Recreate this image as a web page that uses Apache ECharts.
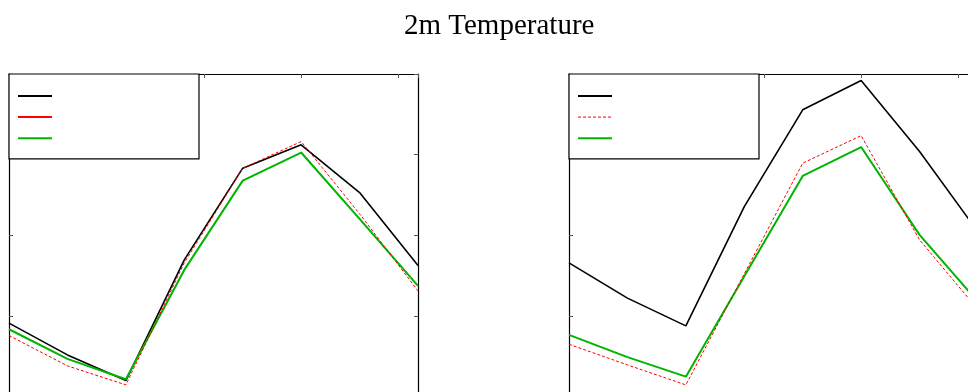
<!DOCTYPE html>
<html>
<head>
<meta charset="utf-8">
<script src="https://cdn.jsdelivr.net/npm/echarts@6/dist/echarts.min.js"></script>
<style>
  html, body { margin: 0; padding: 0; background: #fff; overflow: hidden; }
  #chart { width: 990px; height: 400px; }
</style>
</head>
<body>
<div id="chart"></div>
<script>
// forecast hours (x) and 2m temperature in K (y)
const hours = [0, 6, 12, 18, 24, 30, 36, 42]
const xTicks = { min: 0, max: 42, interval: 10 }
const yTicks = { min: 270, max: 290, interval: 5 }

// left panel
const leftRef  = [274.55, 272.58, 270.99, 278.47, 284.16, 285.61, 282.65, 278.13]
const leftRun1 = [273.78, 271.90, 270.72, 278.29, 284.15, 285.81, 281.33, 276.55]
const leftRun2 = [274.17, 272.33, 271.07, 277.85, 283.39, 285.13, 281.02, 276.86]

// right panel
const rightRef  = [278.29, 276.10, 274.38, 281.78, 287.78, 289.60, 285.19, 280.21]
const rightRun1 = [273.24, 271.96, 270.72, 277.61, 284.47, 286.18, 279.71, 275.39]
const rightRun2 = [273.82, 272.44, 271.23, 277.45, 283.68, 285.47, 280.02, 275.87]

const BLACK = '#000000'
const RED = '#ff0000'
const GREEN = '#00b400'

const toPairs = vals => hours.map((h, i) => [h, vals[i]])

const grids = [
  { left: 9, top: 74, width: 409, height: 322.5 },
  { left: 569, top: 74, width: 409, height: 322.5 }
]

function frameAxes(kind, gridIndex) {
  const base = {
    type: 'value',
    gridIndex,
    ...(kind === 'x' ? xTicks : yTicks),
    axisLabel: { show: false },
    splitLine: { show: false },
    axisLine: { show: true, onZero: false, lineStyle: { color: BLACK, width: 1.2 } },
    axisTick: { show: true, inside: true, length: 4, lineStyle: { color: '#555', width: 1 } }
  }
  const sides = kind === 'x' ? ['bottom', 'top'] : ['left', 'right']
  return sides.map(position => ({ ...base, position }))
}

const xAxis = [...frameAxes('x', 0), ...frameAxes('x', 1)]
const yAxis = [...frameAxes('y', 0), ...frameAxes('y', 1)]

function line(name, vals, panel, color, width, dashed) {
  return {
    name,
    type: 'line',
    xAxisIndex: panel * 2,
    yAxisIndex: panel * 2,
    data: toPairs(vals),
    symbol: 'none',
    showSymbol: false,
    silent: true,
    z: color === RED ? 3 : 2,
    lineStyle: { color, width, type: dashed ? [3, 2] : 'solid' },
    itemStyle: { color }
  }
}

const series = [
  line('A reference', leftRef, 0, BLACK, 1.6, false),
  line('A run 1', leftRun1, 0, RED, 1, true),
  line('A run 2', leftRun2, 0, GREEN, 2, false),
  line('B reference', rightRef, 1, BLACK, 1.6, false),
  line('B run 1', rightRun1, 1, RED, 1, true),
  line('B run 2', rightRun2, 1, GREEN, 2, false)
]

// legend icons: just the line, no marker
const noMarker = { opacity: 0 }

function legendBox(left, names, redSolid) {
  return {
    orient: 'vertical',
    left,
    top: 74,
    padding: [15, 146, 15, 8],
    itemWidth: 34,
    itemHeight: 14,
    itemGap: 8.5,
    selectedMode: false,
    borderColor: BLACK,
    borderWidth: 1.2,
    backgroundColor: '#fff',
    formatter: () => '',
    data: [
      { name: names[0], itemStyle: noMarker, lineStyle: { width: 2 } },
      { name: names[1], itemStyle: noMarker, lineStyle: redSolid ? { type: 'solid', width: 2 } : { type: [3, 2], width: 1 } },
      { name: names[2], itemStyle: noMarker, lineStyle: { width: 2 } }
    ]
  }
}

const chart = echarts.init(document.getElementById('chart'), null, { renderer: 'canvas' })
chart.setOption({
  animation: false,
  backgroundColor: '#fff',
  title: {
    text: '2m Temperature',
    left: 404,
    top: 12,
    padding: 0,
    textStyle: { fontFamily: 'Liberation Serif', fontSize: 29, fontWeight: 'normal', color: BLACK }
  },
  grid: grids,
  xAxis,
  yAxis,
  legend: [
    legendBox(9, ['A reference', 'A run 1', 'A run 2'], true),
    legendBox(569, ['B reference', 'B run 1', 'B run 2'], false)
  ],
  series
})
</script>
</body>
</html>
